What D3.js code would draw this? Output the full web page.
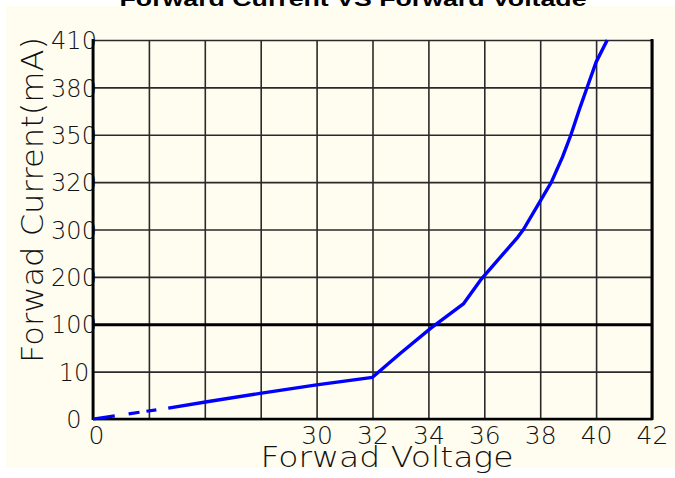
<!DOCTYPE html>
<html lang="en">
  <head>
    <meta charset="utf-8">
    <title>Forward Current VS Forward Voltage</title>
    <script src="https://d3js.org/d3.v7.min.js"></script>
    <style>
      body { margin: 0; background: #ffffff; }
      .tick text { font-family: "DejaVu Sans", sans-serif; font-weight: 200; fill: #111; }
      .axisLabel { font-family: "DejaVu Sans", sans-serif; font-weight: 200; fill: #111; }
    </style>
  </head>
  <body>
    <div id="chart"></div>
    <script>

      // grid positions along each axis (the axes are not linear)
      var voltageTicks = [0, 7.5, 15, 22.5, 30, 32, 34, 36, 38, 40, 42];
      var voltageLabels = ["0", "", "", "", "30", "32", "34", "36", "38", "40", "42"];
      var currentTicks = [0, 10, 100, 200, 300, 320, 350, 380, 410];
      var currentLabels = ["0", "10", "100", "200", "300", "320", "350", "380", "410"];

      // curve: [voltage, current mA]
      var lowPart = [[0, 0], [10.1, 2.3]];
      var mainPart = [
        [10.1, 2.3], [15.5, 3.7], [22.4, 5.4], [30, 7.2], [32, 8.8],
        [33, 45], [34.1, 93], [35.25, 143], [35.9, 196], [37.2, 284],
        [37.4, 300], [38.0, 312], [38.4, 320], [38.8, 336], [39.1, 350],
        [39.4, 366], [39.7, 381], [40.0, 396], [40.4, 410]];

      var width = 675;
      var height = 478;
      var margin = {top: 40, left: 93, right: 23, bottom: 59};
      var x0 = margin.left, x1 = width - margin.right;
      var y0 = height - margin.bottom, y1 = margin.top;

      var svg = d3.select("#chart")
        .append("svg")
        .attr("width", width)
        .attr("height", height);

      // title, mostly hidden under the panel
      svg.append("text")
        .attr("x", 353)
        .attr("y", 6)
        .attr("text-anchor", "middle")
        .attr("textLength", 467)
        .attr("lengthAdjust", "spacingAndGlyphs")
        .style("font-family", "Liberation Sans, Arial, sans-serif")
        .style("font-weight", "bold")
        .style("font-size", "21px")
        .text("Forward Current VS Forward Voltage");

      svg.append("rect")
        .attr("x", 6)
        .attr("y", 6)
        .attr("width", width - 6)
        .attr("height", 462)
        .attr("fill", "#fffcf0");

      var xScale = d3.scaleLinear()
        .domain([0, 30, 42])
        .range([x0, x0 + (x1 - x0) * 4 / 10, x1]);

      var yScale = d3.scaleLinear()
        .domain(currentTicks)
        .range(currentTicks.map(function(d, i){ return y0 - i * (y0 - y1) / (currentTicks.length - 1); }));

      var xAxis = svg.append("g")
        .attr("class", "axis")
        .attr("transform", `translate(0,${y0})`)
        .call(d3.axisBottom(xScale)
          .tickValues(voltageTicks)
          .tickSize(-(y0 - y1))
          .tickPadding(7)
          .tickFormat(function(d, i){ return voltageLabels[i]; }));
      xAxis.select(".domain").remove();
      xAxis.selectAll(".tick line").attr("stroke", "#2a2a2a").attr("stroke-width", 1.6);
      xAxis.selectAll(".tick text").style("font-size", "25px").attr("dx", function(d){ return d == 0 ? 3 : 0; });

      var yAxis = svg.append("g")
        .attr("class", "axis")
        .attr("transform", `translate(${x0},0)`)
        .call(d3.axisLeft(yScale)
          .tickValues(currentTicks)
          .tickSize(-(x1 - x0))
          .tickPadding(0)
          .tickFormat(function(d, i){ return currentLabels[i]; }));
      yAxis.select(".domain").remove();
      yAxis.selectAll(".tick line")
        .attr("stroke", function(d){ return d == 100 ? "#000" : "#2a2a2a"; })
        .attr("stroke-width", function(d){ return d == 100 ? 2.8 : 1.6; });
      yAxis.selectAll(".tick text")
        .style("font-size", "24px")
        .attr("text-anchor", "middle")
        .attr("x", 74 - x0)
        .attr("dy", "0.36em");

      // frame
      svg.append("line").attr("x1", x0).attr("x2", x0).attr("y1", y1 - 1).attr("y2", y0 + 1)
        .attr("stroke", "#000").attr("stroke-width", 2.8);
      svg.append("line").attr("x1", x0).attr("x2", x1 + 1).attr("y1", y0).attr("y2", y0)
        .attr("stroke", "#000").attr("stroke-width", 2.6);
      svg.append("line").attr("x1", x1).attr("x2", x1).attr("y1", y1 - 1).attr("y2", y0 + 1)
        .attr("stroke", "#000").attr("stroke-width", 3);

      var line = d3.line()
        .x(function(d){ return xScale(d[0]); })
        .y(function(d){ return yScale(d[1]); });

      svg.append("path")
        .datum(lowPart)
        .attr("d", line)
        .attr("fill", "none")
        .attr("stroke", "#0000ff")
        .attr("stroke-width", 3.2)
        .attr("stroke-dasharray", "22,14,11,7,10,12");

      svg.append("path")
        .datum(mainPart)
        .attr("d", line)
        .attr("fill", "none")
        .attr("stroke", "#0000ff")
        .attr("stroke-width", 3.4)
        .attr("stroke-linejoin", "round");

      var xLabel = svg.append("text")
        .attr("class", "axisLabel")
        .attr("x", 387)
        .attr("y", 467)
        .attr("text-anchor", "middle")
        .attr("textLength", 253)
        .attr("lengthAdjust", "spacingAndGlyphs")
        .style("font-size", "28px")
        .text("Forwad Voltage");

      var yLabel = svg.append("text")
        .attr("class", "axisLabel")
        .attr("transform", "rotate(-90)")
        .attr("x", -200)
        .attr("y", 43)
        .attr("text-anchor", "middle")
        .attr("textLength", 326)
        .attr("lengthAdjust", "spacingAndGlyphs")
        .style("font-size", "30px")
        .text("Forwad Current(mA)");

    </script>
  </body>
</html>
